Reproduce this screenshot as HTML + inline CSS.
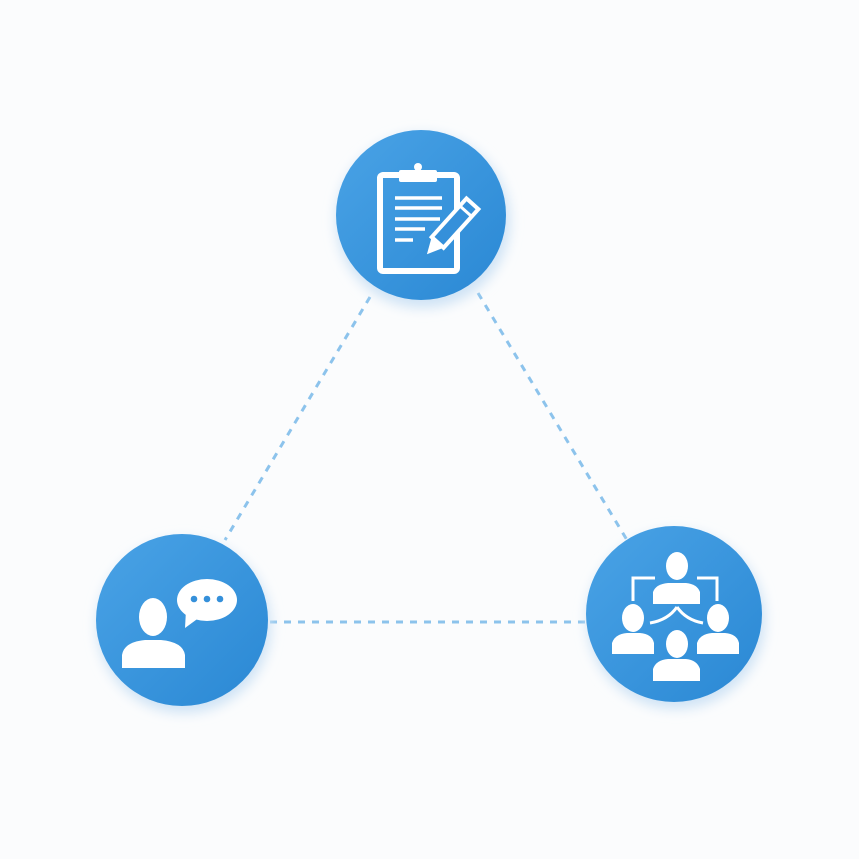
<!DOCTYPE html>
<html><head><style>html,body{margin:0;padding:0;background:#fbfcfd;}svg{display:block}</style></head>
<body>
<svg width="859" height="859" viewBox="0 0 859 859" xmlns="http://www.w3.org/2000/svg">
<defs>
<linearGradient id="g" x1="0" y1="0" x2="1" y2="1">
<stop offset="0" stop-color="#4aa3e6"/><stop offset="1" stop-color="#2a88d4"/>
</linearGradient>
<filter id="s" x="-30%" y="-30%" width="160%" height="160%"><feGaussianBlur stdDeviation="6"/></filter>
</defs>
<rect width="859" height="859" fill="#fbfcfd"/>
<g stroke="#8cc3ec" stroke-width="3" stroke-dasharray="7,7" fill="none">
<line x1="370" y1="297" x2="225" y2="540"/>
<line x1="478" y1="293" x2="627" y2="540"/>
<line x1="270" y1="622" x2="585" y2="622"/>
</g>
<g fill="#cfe3f5" filter="url(#s)">
<circle cx="423" cy="221" r="87"/><circle cx="184" cy="626" r="87"/><circle cx="676" cy="620" r="89"/>
</g>
<circle cx="421" cy="215" r="85" fill="url(#g)"/>
<circle cx="182" cy="620" r="86" fill="url(#g)"/>
<circle cx="674" cy="614" r="88" fill="url(#g)"/>
<!-- clipboard -->
<g fill="none" stroke="#fff" stroke-width="6" stroke-linejoin="round">
<rect x="380" y="175" width="77" height="96" rx="3"/>
</g>
<rect x="399" y="170" width="38" height="12" rx="2" fill="#fff"/>
<circle cx="418" cy="167" r="4" fill="#fff"/>
<g stroke="#fff" stroke-width="3.5">
<line x1="395" y1="198" x2="442" y2="198"/><line x1="395" y1="208" x2="442" y2="208"/>
<line x1="395" y1="219" x2="440" y2="219"/><line x1="395" y1="229" x2="425" y2="229"/>
<line x1="395" y1="240" x2="413" y2="240"/>
</g>
<g transform="translate(447,232) rotate(42)">
<rect x="-8" y="-38" width="16" height="52" fill="#3590da" stroke="#fff" stroke-width="4"/>
<path d="M-8 14 L0 30 L8 14 Z" fill="#fff"/>
<line x1="-8" y1="-28" x2="8" y2="-28" stroke="#fff" stroke-width="3"/>
</g>
<!-- left person with bubble -->
<ellipse cx="153" cy="617" rx="14" ry="19" fill="#fff"/>
<path d="M122 668 L122 655 Q124 642 145 640 L161 640 Q183 642 185 655 L185 668 Z" fill="#fff"/>
<ellipse cx="207" cy="600" rx="30" ry="21" fill="#fff"/>
<path d="M186 610 L185 628 L200 617 Z" fill="#fff"/>
<g fill="#3590da"><circle cx="194" cy="599" r="3.3"/><circle cx="207" cy="599" r="3.3"/><circle cx="220" cy="599" r="3.3"/></g>
<!-- people network -->
<g fill="none" stroke="#fff" stroke-width="3">
<path d="M633 601 L633 578 L655 578"/><path d="M697 578 L717 578 L717 601"/>
<path d="M677 607 Q668 620 650 623"/><path d="M677 607 Q686 620 703 623"/>
</g>
<g fill="#fff">
<ellipse cx="677" cy="566" rx="11" ry="14"/>
<path d="M653 604 L653 592 Q656 584 668 583 L686 583 Q697 584 700 592 L700 604 Z"/>
<ellipse cx="633" cy="618" rx="11" ry="14"/>
<path d="M612 654 L612 643 Q615 634 627 633 L640 633 Q652 634 654 643 L654 654 Z"/>
<ellipse cx="718" cy="618" rx="11" ry="14"/>
<path d="M697 654 L697 643 Q700 634 712 633 L725 633 Q737 634 739 643 L739 654 Z"/>
<ellipse cx="677" cy="644" rx="11" ry="14"/>
<path d="M653 681 L653 669 Q656 660 668 659 L686 659 Q697 660 700 669 L700 681 Z"/>
</g>
</svg>
</body></html>
